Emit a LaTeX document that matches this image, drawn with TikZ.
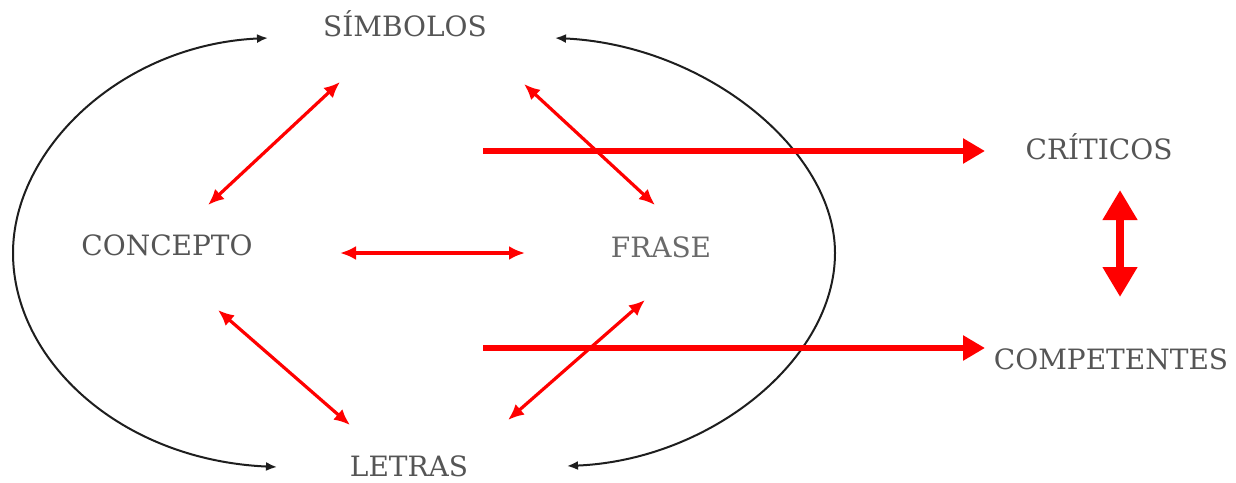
\documentclass[tikz,border=0pt]{standalone}
\usepackage{fontspec}
\setmainfont{DejaVu Serif}
\usetikzlibrary{arrows.meta,calc}
\definecolor{txt}{HTML}{555555}
\definecolor{txtlight}{HTML}{6A6A6A}
\definecolor{curve}{HTML}{1E1E1E}
\begin{document}
\begin{tikzpicture}[x=1pt,y=-1pt,
  lbl/.style={font=\fontsize{28}{30}\selectfont, text=txt, inner sep=0pt, anchor=base},
  redlink/.style={draw=red, line width=3.2pt, {Latex[length=16pt,width=14pt]}-{Latex[length=16pt,width=14pt]}},
  redbig/.style={draw=red, line width=6pt, -{Triangle[length=22pt,width=24pt]}},
  redvert/.style={draw=red, line width=8pt, {Triangle[length=30pt,width=33pt]}-{Triangle[length=30pt,width=33pt]}},
  loop/.style={draw=curve, line width=2pt, {Latex[length=11pt,width=9pt]}-{Latex[length=11pt,width=9pt]}}
]
\useasboundingbox[fill=white] (0,0) rectangle (1236,482);

\node[lbl] (sim) at (405,36) {SÍMBOLOS};
\node[lbl] (con) at (167,255) {CONCEPTO};
\node[lbl, text=txtlight] (fra) at (661,257) {FRASE};
\node[lbl] (let) at (409,476) {LETRAS};
\node[lbl] (cri) at (1099,159) {CRÍTICOS};
\node[lbl] (com) at (1111,369) {COMPETENTES};

\coordinate (t1) at (483,151);
\coordinate (b1) at (483,348);

% black loops
\draw[loop] ($(sim.base)+(-137,2)$) .. controls (120,45) and (13,150) .. (13,253)
  .. controls (13,360) and (120,460) .. ($(let.base)+(-132,-9)$);
\draw[loop] ($(sim.base)+(150,2)$) .. controls (705,45) and (835,150) .. (835,253)
  .. controls (835,360) and (710,460) .. ($(let.base)+(158,-10)$);

% thin red arrows
\draw[redlink] ($(sim.base)+(-65,46)$) -- ($(con.base)+(41,-50)$);
\draw[redlink] ($(sim.base)+(119,48)$) -- ($(fra.base)+(-6,-52)$);
\draw[redlink] ($(con.base)+(173,-2)$) -- ($(fra.base)+(-136,-4)$);
\draw[redlink] ($(con.base)+(51,55)$) -- ($(let.base)+(-59,-51)$);
\draw[redlink] ($(fra.base)+(-16,43)$) -- ($(let.base)+(99,-56)$);

% thick red arrows
\draw[redbig] (t1) -- ($(cri.base)+(-114,-8)$);
\draw[redbig] (b1) -- ($(com.base)+(-126,-21)$);
\draw[redvert] ($(cri.base)+(21,31)$) -- ($(com.base)+(9,-72)$);
\end{tikzpicture}
\end{document}
